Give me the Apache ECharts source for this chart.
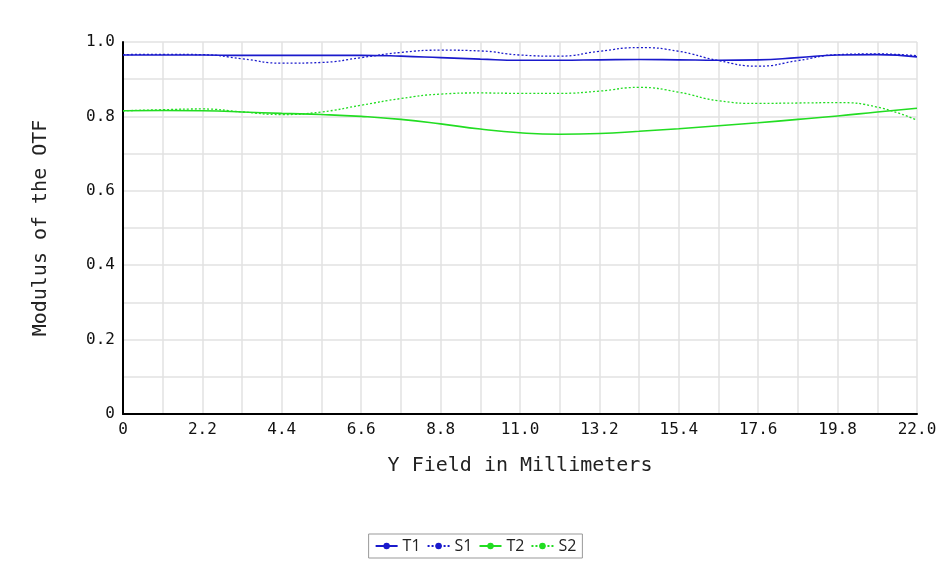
<!DOCTYPE html>
<html><head><meta charset="utf-8">
<script src="https://cdn.jsdelivr.net/npm/echarts@6/dist/echarts.min.js"></script>
<style>html,body{margin:0;padding:0;background:#fff}#c{width:951px;height:566px}</style>
</head><body><div id="c"></div>
<script>
const xs = [0,1.1,2.2,3.3,4.4,5.5,6.6,7.7,8.8,9.9,11,12.1,13.2,14.3,15.4,16.5,17.6,18.7,19.8,20.9,22];
const T1 = [0.965,0.965,0.965,0.964,0.964,0.964,0.964,0.962,0.958,0.954,0.951,0.951,0.952,0.953,0.952,0.951,0.952,0.958,0.965,0.966,0.960];
const S1 = [0.966,0.967,0.966,0.955,0.943,0.945,0.958,0.972,0.978,0.976,0.965,0.962,0.975,0.985,0.975,0.950,0.935,0.950,0.966,0.968,0.963];
const T2 = [0.815,0.816,0.815,0.812,0.808,0.805,0.800,0.792,0.780,0.766,0.756,0.752,0.754,0.760,0.767,0.775,0.783,0.792,0.801,0.812,0.822];
const S2 = [0.815,0.818,0.820,0.812,0.805,0.812,0.830,0.848,0.860,0.863,0.862,0.862,0.868,0.878,0.865,0.842,0.835,0.836,0.837,0.825,0.790];
const xTicks = ['0','2.2','4.4','6.6','8.8','11.0','13.2','15.4','17.6','19.8','22.0'];
const yTicks = ['0','0.2','0.4','0.6','0.8','1.0'];
const mono = 'DejaVu Sans Mono';
function ser(name, data, color, dotted){
  return {name, type:'line', smooth:true, symbol:'none', data: xs.map((x,i)=>[x,data[i]]),
    lineStyle:{color, width:dotted?1.3:1.6, type: dotted?[2,2]:'solid'}, itemStyle:{color}};
}
const chart = echarts.init(document.getElementById('c'));
chart.setOption({
  animation:false,
  grid:{left:123,right:34,top:42,bottom:152},
  xAxis:{type:'value',min:0,max:22,interval:2.2,
    name:'Y Field in Millimeters',nameLocation:'middle',nameGap:42,
    nameTextStyle:{fontFamily:mono,fontSize:20,color:'#222'},
    axisLabel:{fontFamily:mono,fontSize:16,color:'#111',formatter:v=>xTicks[Math.round(v/2.2)]},
    axisLine:{lineStyle:{color:'#000',width:2}},axisTick:{show:false},
    splitLine:{lineStyle:{color:'#e2e2e2',width:1.5}},
    minorTick:{show:false,splitNumber:2},minorSplitLine:{show:true,lineStyle:{color:'#e2e2e2',width:1.5}}},
  yAxis:{type:'value',min:0,max:1,interval:0.2,
    name:'Modulus of the OTF',nameLocation:'middle',nameGap:72,
    nameTextStyle:{fontFamily:mono,fontSize:20,color:'#222'},
    axisLabel:{fontFamily:mono,fontSize:16,color:'#111',formatter:v=>yTicks[Math.round(v/0.2)]},
    axisLine:{show:true,lineStyle:{color:'#000',width:2}},axisTick:{show:false},
    splitLine:{lineStyle:{color:'#e2e2e2',width:1.5}},
    minorTick:{show:false,splitNumber:2},minorSplitLine:{show:true,lineStyle:{color:'#e2e2e2',width:1.5}}},
  legend:{bottom:8,left:'center',itemWidth:22,itemHeight:8,itemGap:6,
    borderColor:'#999',borderWidth:1,padding:[4,6],
    textStyle:{fontFamily:'Open Sans',fontSize:16,color:'#222'},
    data:['T1','S1','T2','S2']},
  series:[ser('T1',T1,'#1a1acc',false),ser('S1',S1,'#1a1acc',true),ser('T2',T2,'#22dd22',false),ser('S2',S2,'#22dd22',true)]
});
</script></body></html>
